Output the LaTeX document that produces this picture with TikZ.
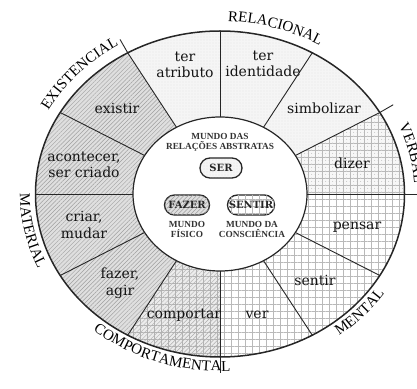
\documentclass[tikz,border=0pt]{standalone}
\usepackage{fontspec}
\setmainfont{Liberation Serif}
\newfontfamily\lblserif{DejaVu Serif}
\usetikzlibrary{patterns,patterns.meta,decorations.text,shapes.misc}
\newcommand\outcapfont{\fontsize{15}{15}\selectfont}
\newcommand\mysector[3]{\path[#3] (#1:184.5 and 163) arc[start angle=#1,end angle=#2,x radius=184.5,y radius=163] -- (#2:87 and 77) arc[start angle=#2,end angle=#1,x radius=87,y radius=77] -- cycle;}
\begin{document}
\begin{tikzpicture}[x=1pt,y=1pt,
  seclabel/.style={font=\lblserif\fontsize{14}{16.5}\selectfont, align=center, inner sep=0pt, text=black!92},
  smallcaps/.style={font=\bfseries\fontsize{9.3}{10}\selectfont, align=center, inner sep=0pt, text=black!80},
  pill/.style={rounded rectangle, draw=black!85, line width=1.3pt, minimum height=20, inner xsep=3pt, font=\lblserif\bfseries\fontsize{10}{12}\selectfont, text=black!85},
  divider/.style={draw=black!85, line width=0.9pt},
  hatchfill/.style={fill=gray!25, postaction={pattern={Lines[angle=45,distance=3pt,line width=0.45pt]}, pattern color=gray!75}},
  dotfill/.style={fill=gray!8, postaction={pattern={Dots[distance=3pt,radius=0.45pt]}, pattern color=gray!45}},
  gridfill/.style={fill=white, postaction={pattern={Hatch[angle=0,distance=7pt,line width=0.5pt]}, pattern color=gray!55}},
  griddotfill/.style={fill=gray!6, postaction={pattern={Dots[distance=3.5pt,radius=0.5pt]}, pattern color=gray!45}, postaction={pattern={Hatch[angle=0,distance=7pt,line width=0.5pt]}, pattern color=gray!55}},
  combofill/.style={fill=gray!15, postaction={pattern={Lines[angle=45,distance=3pt,line width=0.45pt]}, pattern color=gray!65}, postaction={pattern={Hatch[angle=0,distance=7pt,line width=0.55pt]}, pattern color=gray!60}},
  arcA/.style={decorate, decoration={text along path, text align=center, text={|\outcapfont|#1}}},
]
\useasboundingbox (0,0) rectangle (417,388);
\begin{scope}[shift={(220,194)}]
  % sectors
  \mysector{90}{120}{dotfill}
  \mysector{60}{90}{dotfill}
  \mysector{30}{60}{dotfill}
  \mysector{0}{30}{griddotfill}
  \mysector{-30}{0}{gridfill}
  \mysector{-60}{-30}{gridfill}
  \mysector{-90}{-60}{gridfill}
  \mysector{240}{270}{combofill}
  \mysector{210}{240}{hatchfill}
  \mysector{180}{210}{hatchfill}
  \mysector{150}{180}{hatchfill}
  \mysector{120}{150}{hatchfill}
  % circles
  \draw[line width=1.5pt, draw=black!85] (0,0) ellipse[x radius=184.5, y radius=163];
  \draw[line width=1.2pt, draw=black!85, fill=white] (0,0) ellipse[x radius=87, y radius=77];
  % dividers
  \foreach \a in {0,30,...,330} \draw[divider] (\a:87 and 77) -- (\a:184.5 and 163);
  % ticks
  \foreach \a in {120,30,0,270} \draw[divider] (\a:184.5 and 163) -- (\a:200 and 178.5);
  % outer labels, group A (clockwise)
  \path[arcA=RELACIONAL] (105:194.5 and 173) arc[start angle=105, end angle=41, x radius=194.5, y radius=173];
  \path[arcA=EXISTENCIAL] (169:195.5 and 174) arc[start angle=169, end angle=105, x radius=195.5, y radius=174];
  \path[arcA=VERBAL] (43:194.5 and 173) arc[start angle=43, end angle=-17, x radius=194.5, y radius=173];
  % group B (counterclockwise)
  \path[arcA=MATERIAL] (162:200 and 178) arc[start angle=162, end angle=222, x radius=200, y radius=178];
  \path[arcA=COMPORTAMENTAL] (206:199 and 177) arc[start angle=206, end angle=296, x radius=199, y radius=177];
  \path[arcA=MENTAL] (287:199 and 177) arc[start angle=287, end angle=347, x radius=199, y radius=177];
\end{scope}
% sector labels
\node[seclabel] (tatr) at (185,323) {ter\\atributo};
\node[seclabel] (tide) at (263,324) {ter\\identidade};
\node[seclabel] (simb) at (324,280) {simbolizar};
\node[seclabel] (dize) at (352,225) {dizer};
\node[seclabel] (pens) at (357,161) {pensar};
\node[seclabel] (sent) at (315,108) {sentir};
\node[seclabel] (ver) at (257,73) {ver};
\node[seclabel] (comp) at (184,73) {comportar};
\node[seclabel] (faze) at (120,105) {fazer,\\agir};
\node[seclabel] (cria) at (84,163) {criar,\\mudar};
\node[seclabel] (acon) at (84,223) {acontecer,\\ser criado};
\node[seclabel] (exis) at (117,280) {existir};
% inner
\node[smallcaps] (mrel) at (220,246) {MUNDO DAS\\RELAÇÕES ABSTRATAS};
\node[pill, dotfill, minimum width=48] (ser) at (221,220) {SER};
\node[pill, hatchfill, minimum width=51] (fazer) at (187,183) {FAZER};
\node[pill, gridfill, minimum width=53] (sentir) at (251,183) {SENTIR};
\node[smallcaps] (mfis) at (187,159) {MUNDO\\FÍSICO};
\node[smallcaps] (mcon) at (252,159) {MUNDO DA\\CONSCIÊNCIA};
\end{tikzpicture}
\end{document}
